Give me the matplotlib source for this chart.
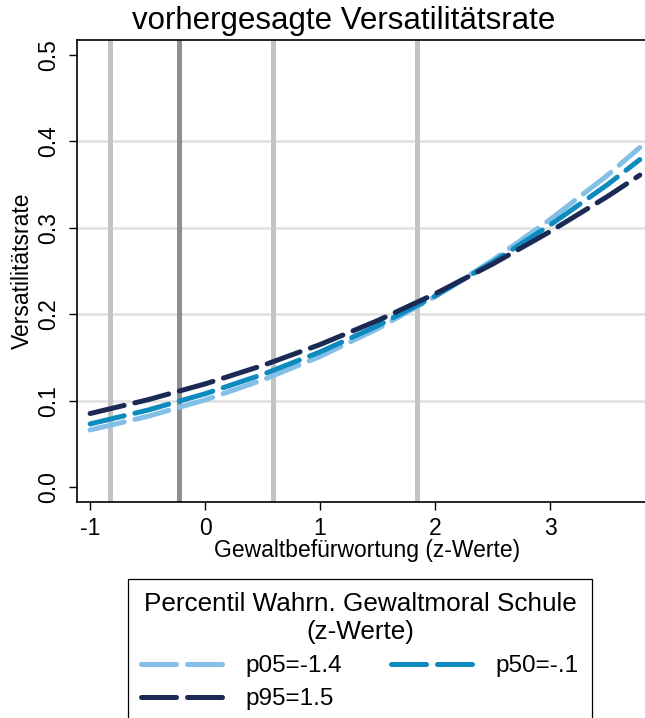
import matplotlib
matplotlib.use('Agg')
import matplotlib.pyplot as plt

plt.rcParams['font.family'] = ['Liberation Sans', 'DejaVu Sans']

# ---- data ----
x_vals = [-1.0, -0.5, 0.0, 0.5, 1.0, 1.5, 2.0, 2.5, 3.0, 3.5, 3.78]
p05 = [0.066, 0.0817, 0.1008, 0.1238, 0.1511, 0.1832, 0.2203, 0.2625, 0.3096, 0.3610, 0.3930]
p50 = [0.073, 0.0889, 0.1079, 0.1302, 0.1563, 0.1866, 0.2211, 0.2601, 0.3032, 0.3501, 0.3790]
p95 = [0.085, 0.1009, 0.1193, 0.1406, 0.1649, 0.1926, 0.2236, 0.2580, 0.2957, 0.3364, 0.3610]
series_labels = ['p05=-1.4', 'p50=-.1', 'p95=1.5']
series_colors = ['#84bfe7', '#0e8bbe', '#1b2a55']
vline_x = [-0.83, -0.23, 0.59, 1.84]
vline_colors = ['#c3c3c3', '#8f8f8f', '#c3c3c3', '#c3c3c3']
xticks = [-1, 0, 1, 2, 3]
yticks = [0.0, 0.1, 0.2, 0.3, 0.4, 0.5]
ytick_labels = ['0.0', '0.1', '0.2', '0.3', '0.4', '0.5']
title = 'vorhergesagte Versatilitätsrate'
xlabel = 'Gewaltbefürwortung (z-Werte)'
ylabel = 'Versatilitätsrate'
legend_title = 'Percentil Wahrn. Gewaltmoral Schule\n(z-Werte)'

W, H = 645, 718
fig = plt.figure(figsize=(W / 100, H / 100), dpi=100)
ax = fig.add_axes([77 / W, 1 - 502 / H, 1 - 77 / W, (502 - 40) / H])

for v in yticks[1:-1]:
    ax.axhline(v, color='#e0e0e0', lw=1.8, zorder=0)
for xv, c in zip(vline_x, vline_colors):
    ax.axvline(xv, color=c, lw=3.6, zorder=1)

handles = []
for ys, lab, col in zip([p05, p50, p95], series_labels, series_colors):
    h, = ax.plot(x_vals, ys, color=col, lw=3.6, label=lab, zorder=3,
                 dashes=(7, 2.2), dash_capstyle='round')
    handles.append(h)

ax.set_xlim(-1.114, 3.825)
ax.set_ylim(-0.0174, 0.5174)
ax.set_xticks(xticks)
ax.set_xticklabels([str(t) for t in xticks])
ax.set_yticks(yticks)
ax.set_yticklabels(ytick_labels, rotation=90, va='center')
ax.tick_params(axis='both', direction='out', length=6, width=1, labelsize=16.5, color='black')
ax.tick_params(axis='y', pad=6)
ax.tick_params(axis='x', pad=5)
for s in ['left', 'bottom', 'top']:
    ax.spines[s].set_linewidth(1.2)
    ax.spines[s].set_color('black')
ax.spines['right'].set_visible(False)

ax.set_xlabel(xlabel, fontsize=16.5)
ax.xaxis.set_label_coords((367 - 77) / (W - 77), -(551 - 502) / (502 - 40), transform=ax.transAxes)
ax.xaxis.label.set_va('center')
ax.set_ylabel(ylabel, fontsize=16.5)
ax.yaxis.set_label_coords(-(77 - 22) / (W - 77), 0.5, transform=ax.transAxes)
ax.yaxis.label.set_va('center')

fig.text(344 / W, 1 - 21 / H, title, fontsize=22.5, ha='center', va='center')

leg = fig.legend([handles[0], handles[2], handles[1]],
                 [series_labels[0], series_labels[2], series_labels[1]],
                 ncol=2, loc='upper left', bbox_to_anchor=(128 / W, 1 - 579 / H),
                 title=legend_title, fontsize=17.5, title_fontsize=18.8,
                 frameon=True, fancybox=False, framealpha=1, edgecolor='black',
                 handlelength=3.35, handletextpad=0.95, columnspacing=2.0,
                 labelspacing=0.45, borderaxespad=0, borderpad=0.55)
leg.get_frame().set_linewidth(0.9)
leg.get_title().set_multialignment('center')

fig.savefig('out.png', dpi=100)
